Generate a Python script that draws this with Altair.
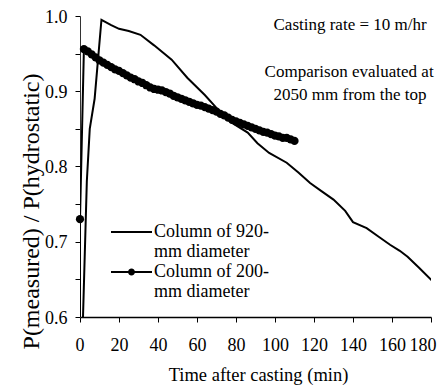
import altair as alt
import pandas as pd

# ---- data ----
S920 = "Column of 920-mm diameter"
S200 = "Column of 200-mm diameter"

t920 = [1, 3.5, 5, 7.5, 11, 16, 20, 25, 31, 38, 47, 55, 64, 71, 78, 86, 91, 97,
        106, 112, 118, 124, 130, 136, 140, 147, 153, 159, 164, 168, 174, 181]
v920 = [0.55, 0.78, 0.85, 0.89, 0.995, 0.988, 0.983, 0.980, 0.975, 0.961, 0.942,
        0.918, 0.895, 0.875, 0.858, 0.845, 0.831, 0.818, 0.805, 0.792, 0.778,
        0.767, 0.756, 0.741, 0.726, 0.718, 0.707, 0.696, 0.688, 0.680, 0.665, 0.647]

t200 = [0, 0, 2, 4, 6, 8, 10, 12, 14, 16, 18, 20, 22, 24, 26, 28, 30, 32, 34, 36,
        38, 40, 42, 44, 46, 48, 50, 52, 54, 56, 58, 60, 62, 64, 66, 68, 70, 72,
        74, 76, 78, 80, 82, 84, 86, 88, 90, 92, 94, 96, 98, 100, 102, 104, 106,
        108, 110]
v200 = [0.55, 0.73, 0.956, 0.953, 0.949, 0.945, 0.941, 0.938, 0.935, 0.932, 0.929,
        0.927, 0.924, 0.921, 0.918, 0.916, 0.913, 0.911, 0.908, 0.905, 0.903,
        0.902, 0.901, 0.899, 0.897, 0.894, 0.892, 0.890, 0.888, 0.886, 0.884,
        0.882, 0.881, 0.879, 0.877, 0.875, 0.873, 0.870, 0.868, 0.865, 0.862,
        0.860, 0.858, 0.856, 0.854, 0.852, 0.850, 0.848, 0.846, 0.845, 0.843,
        0.841, 0.840, 0.838, 0.838, 0.836, 0.834]

x_ticks = [0, 20, 40, 60, 80, 100, 120, 140, 160, 180]
y_ticks = [0.6, 0.65, 0.7, 0.75, 0.8, 0.85, 0.9, 0.95, 1.0]

annot_text = ["Casting rate = 10 m/hr", "Comparison evaluated at", "2050 mm from the top"]
annot_t = [138.5, 138.0, 138.5]
annot_v = [0.982, 0.919, 0.888]

FONT = "Liberation Serif"

df = pd.DataFrame({
    "t": t920 + t200,
    "v": v920 + v200,
    "series": [S920] * len(t920) + [S200] * len(t200),
    "idx": list(range(len(t920))) + list(range(len(t200))),
})
ann = pd.DataFrame({"t": annot_t, "v": annot_v, "text": annot_text})

xscale = alt.Scale(domain=[0, 180], nice=False, zero=False)
yscale = alt.Scale(domain=[0.6, 1.0], nice=False, zero=False)

xaxis = alt.Axis(values=x_ticks, format="d", grid=False, labelOverlap=False,
                 labelBound=False, labelFlush=True, labelFlushOffset=5,
                 labelFont=FONT, labelFontSize=18, labelColor="black",
                 labelPadding=14, tickSize=5, tickColor="black",
                 domainColor="black", domainWidth=1.5,
                 title="Time after casting (min)", titleFont=FONT,
                 titleFontSize=18.5, titleFontWeight="normal", titleColor="black",
                 titleX=178, titleY=63, titleBaseline="alphabetic")
yaxis = alt.Axis(values=y_ticks, grid=False, labelOverlap=False, labelOffset=1,
                 labelExpr="round(datum.value*100) % 10 == 0 ? format(datum.value, '.1f') : ''",
                 labelFont=FONT, labelFontSize=18, labelColor="black",
                 labelPadding=8, tickSize=5, tickColor="black",
                 domainColor="#333", domainWidth=1,
                 title="P(measured) / P(hydrostatic)", titleFont=FONT,
                 titleFontSize=24, titleFontWeight="normal", titleColor="black",
                 titleAngle=270, titleX=-42, titleY=195, titleAlign="center",
                 titleBaseline="alphabetic")

X = alt.X("t:Q", scale=xscale, axis=xaxis)
Y = alt.Y("v:Q", scale=yscale, axis=yaxis)

lines = alt.Chart(df).mark_line(color="black", strokeWidth=2, clip=True).encode(
    x=X, y=Y, detail="series:N", order="idx:Q")

points = alt.Chart(df).transform_filter(
    (alt.datum.series == S200) & (alt.datum.v >= 0.6)
).mark_circle(size=68, color="black", opacity=1).encode(
    x=alt.X("t:Q", scale=xscale, axis=xaxis), y=alt.Y("v:Q", scale=yscale, axis=yaxis))

LINE_PATH = "M-4.1,-0.2L4.1,-0.2L4.1,0.2L-4.1,0.2Z"
LINE_DOT_PATH = LINE_PATH + "M0.7,0A0.7,0.7,0,1,1,-0.7,0A0.7,0.7,0,1,1,0.7,0Z"

legend_layer = alt.Chart(df).transform_filter("false").mark_point(
    filled=True, fill="black", opacity=1
).encode(
    x=alt.X("t:Q", scale=xscale, axis=xaxis), y=alt.Y("v:Q", scale=yscale, axis=yaxis),
    shape=alt.Shape("series:N",
                    scale=alt.Scale(domain=[S920, S200], range=[LINE_PATH, LINE_DOT_PATH]),
                    legend=alt.Legend(orient="none", legendX=42.5, legendY=207,
                                      title=None, padding=0,
                                      symbolSize=100, symbolStrokeWidth=0,
                                      symbolFillColor="black",
                                      symbolOpacity=1,
                                      labelFont=FONT, labelFontSize=18, labelColor="black",
                                      labelOffset=13.5, labelBaseline="middle",
                                      labelLimit=300, rowPadding=2,
                                      labelExpr="[slice(datum.label, 0, 14), slice(datum.label, 14)]")))

texts = alt.Chart(ann).mark_text(font=FONT, fontSize=17, color="black",
                                 align="center", baseline="alphabetic").encode(
    x=alt.X("t:Q", scale=xscale, axis=xaxis), y=alt.Y("v:Q", scale=yscale, axis=yaxis),
    text="text:N")

chart = alt.layer(lines, points, legend_layer, texts).properties(
    width=351, height=301,
    autosize=alt.AutoSizeParams(type="none"),
    padding={"left": 72, "top": 8, "right": 6, "bottom": 68},
).configure(font=FONT).configure_axis(
    labelFont=FONT, titleFont=FONT, labelOverlap=False
).configure_legend(labelFont=FONT).configure_view(strokeWidth=0)

chart.save("out.html", embed_options={"renderer": "svg", "actions": False})
